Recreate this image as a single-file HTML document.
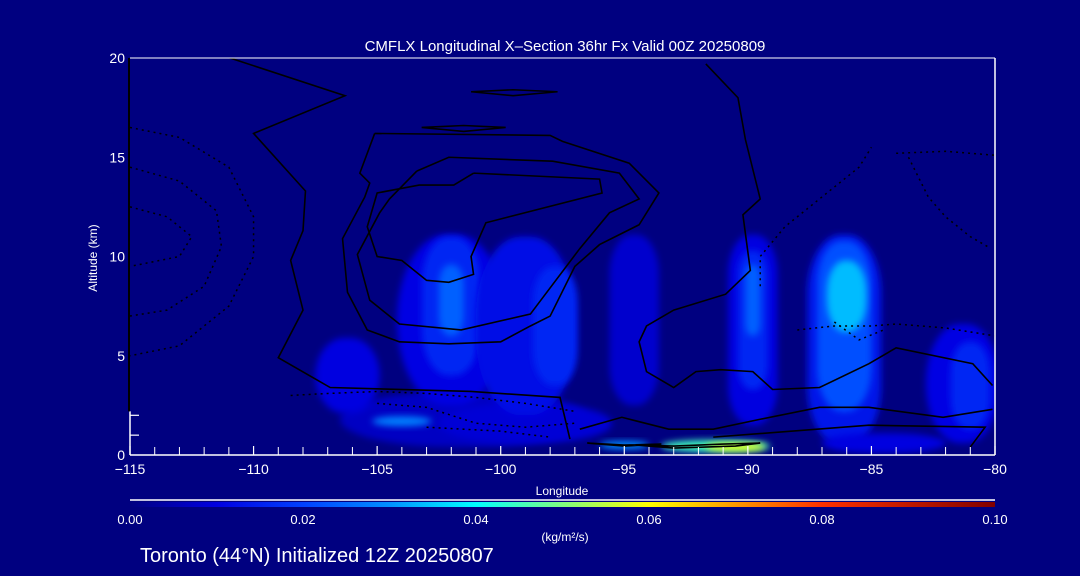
<!DOCTYPE html>
<html><head><meta charset="utf-8"><style>
html,body{margin:0;padding:0;background:#000080;width:1080px;height:576px;overflow:hidden}
svg{display:block;font-family:"Liberation Sans",sans-serif}
</style></head><body>
<svg id="chart" width="1080" height="576">
<defs>
<filter id="blur" x="-50%" y="-50%" width="200%" height="200%"><feGaussianBlur stdDeviation="3.5"/></filter>
<clipPath id="plotclip"><rect x="130" y="58" width="865" height="397"/></clipPath>
<linearGradient id="cbar" x1="0" x2="1" y1="0" y2="0">
<stop offset="0" stop-color="#000080"/><stop offset="0.1" stop-color="#0000e0"/>
<stop offset="0.2" stop-color="#0040ff"/><stop offset="0.3" stop-color="#0090ff"/>
<stop offset="0.4" stop-color="#00ffff"/><stop offset="0.5" stop-color="#80ff80"/>
<stop offset="0.6" stop-color="#ffff00"/><stop offset="0.8" stop-color="#ff3000"/>
<stop offset="1" stop-color="#800000"/></linearGradient>
</defs>
<rect x="0" y="0" width="1080" height="576" fill="#000080"/>
<g id="fills" clip-path="url(#plotclip)"></g>
<g id="contours" clip-path="url(#plotclip)"></g>
<g id="axes"></g>
<text x="565" y="51" fill="#fff" font-size="15" text-anchor="middle">CMFLX Longitudinal X–Section 36hr  Fx Valid 00Z 20250809</text>
<text x="97" y="258" fill="#fff" font-size="12" text-anchor="middle" transform="rotate(-90 97 258)">Altitude (km)</text>
<text x="562" y="495" fill="#fff" font-size="12" text-anchor="middle">Longitude</text>
<line x1="130" y1="500" x2="995" y2="500" stroke="#fff" stroke-width="1.5"/>
<rect x="130" y="502" width="865" height="5" fill="url(#cbar)"/>
<g id="cbticks"></g>
<text x="565" y="541" fill="#fff" font-size="12" text-anchor="middle">(kg/m²/s)</text>
<text x="140" y="562" fill="#fff" font-size="20">Toronto (44°N) Initialized 12Z 20250807</text>
</svg>
<script>
const xTicks=[-115,-110,-105,-100,-95,-90,-85,-80];
const yTicks=[0,5,10,15,20];
const cbLabels=["0.00","0.02","0.04","0.06","0.08","0.10"];
const cbValues=[0,0.02,0.04,0.06,0.08,0.10];
const blobLon=[-101.5,-99,-102,-102,-102,-99,-97.8,-106.2,-94.6,-89.8,-89.8,-89.8,-86.1,-86.1,-86,-81.3,-81,-104,-91.3,-90.5,-95,-84.5];
const blobAlt=[1.8,1.6,6.8,7.5,7.8,6.5,6.5,4.0,6.8,6.3,6.8,7.8,5.8,6.5,8.0,3.6,3.5,1.7,0.45,0.4,0.5,0.6];
const blobHalfW=[5.0,3.5,2.2,1.2,0.5,2.0,0.9,1.3,1.0,1.0,0.6,0.3,1.5,1.1,0.8,1.5,0.8,1.2,2.2,1.2,1.0,2.5];
const blobHalfH=[1.4,1.0,4.3,3.5,1.8,4.5,3.0,1.9,4.3,4.8,3.5,1.8,5.3,4.3,1.8,3.0,2.2,0.25,0.3,0.2,0.2,0.5];
const blobVal=[0.007,0.009,0.011,0.016,0.024,0.012,0.016,0.01,0.008,0.01,0.016,0.024,0.013,0.022,0.034,0.011,0.016,0.028,0.045,0.058,0.03,0.01];
const solidLon=[
[-111.2,-106.3,-110.0,-107.9,-108.0,-108.5,-108.0,-109.0,-106.9,-101.2,-97.6,-97.2],
[-105.1,-98.0,-97.5,-94.8,-93.6,-94.4,-96.0,-97.0,-98.0,-98.8,-100.0,-102.1,-104.1,-105.4,-106.2,-106.4,-105.5,-105.3,-105.7,-105.1],
[-103.4,-102.1,-97.9,-95.2,-94.4,-95.6,-96.8,-98.8,-101.6,-104.1,-105.3,-105.8,-104.9,-104.5,-103.4],
[-101.1,-96.0,-95.9,-100.6,-101.2,-101.1,-102.1,-103.0,-104.0,-105.0,-105.4,-105.0,-103.3,-101.9,-101.1],
[-96.8,-95.1,-93.2,-91.4,-89.5,-87.1,-85.1,-82.1,-80.1],
[-80.1,-80.9,-84.0,-85.1,-87.1,-89.0,-89.8,-91.1,-92.1,-93.0,-94.1,-94.4,-94.1,-93.0,-90.9,-89.9,-90.2,-89.5,-90.1,-90.4,-91.7],
[-91.4,-85.1,-80.4,-81.0],
[-94.5,-93,-91,-89.5,-90.5,-93,-94.5],
[-96.5,-95,-93.5,-95,-96.5],
[-101.2,-99.5,-97.7,-99.5,-101.2],
[-103.2,-101.5,-99.8,-101.5,-103.2]];
const solidAlt=[
[20.1,18.1,16.2,13.3,11.3,9.8,7.3,4.9,3.4,3.2,2.9,0.8],
[16.2,16.1,15.8,14.7,13.2,11.6,10.6,9.5,7.0,6.5,5.7,5.6,5.7,6.3,8.2,10.9,13.0,13.7,14.2,16.2],
[14.3,15.0,14.8,14.2,12.9,12.2,10.4,7.1,6.3,6.6,7.8,10.1,12.2,12.9,14.3],
[14.2,13.9,13.2,11.7,10.0,9.1,8.7,8.8,9.8,10.0,11.5,13.2,13.6,13.6,14.2],
[1.3,1.9,1.3,1.3,1.8,2.4,2.4,1.9,2.3],
[3.5,4.6,5.4,4.6,3.4,3.3,4.2,4.3,4.2,3.4,4.2,5.7,6.5,7.3,8.1,9.3,12.1,12.9,15.9,18.0,19.7],
[0.9,1.5,1.4,0.4],
[0.5,0.45,0.55,0.6,0.45,0.35,0.5],
[0.6,0.5,0.55,0.45,0.6],
[18.3,18.4,18.3,18.1,18.3],
[16.5,16.6,16.5,16.3,16.5]];
const dotLon=[
[-115,-113,-111,-110,-110,-111,-113,-115],
[-115,-113,-111.5,-111.3,-112,-113.5,-115],
[-115,-113.5,-112.5,-113,-115],
[-108.5,-107,-105,-103,-101,-99,-97],
[-105,-103,-101,-99,-97],
[-103,-100,-98],
[-89.5,-89.5,-88.5,-87.5,-86.5,-85.5,-85],
[-88,-86.5,-85,-84,-82,-80],
[-86.5,-85.5,-84.5],
[-83.5,-82.7,-82,-81,-80.3],
[-84,-82,-80]];
const dotAlt=[
[16.5,16,14.5,12,10,7.5,5.5,5],
[14.5,13.8,12.3,10.5,8.5,7.3,7],
[12.5,12,11,10,9.5],
[3,3.1,3.2,3.1,2.9,2.6,2.2],
[2.6,2.4,1.6,1.4,1.6],
[1.4,1.2,0.9],
[8.5,10,11.5,12.5,13.5,14.5,15.5],
[6.3,6.5,6.5,6.6,6.4,6],
[6.7,5.8,6.3],
[15,13,12,11,10.5],
[15.2,15.3,15.1]];

const X0=130,X1=995,Y0=455,Y1=58;
const px=l=>X0+(l+115)/35*(X1-X0);
const py=a=>Y0-a/20*(Y0-Y1);
const stops=[[0,[0,0,128]],[0.01,[0,0,224]],[0.02,[0,64,255]],[0.03,[0,144,255]],[0.04,[0,255,255]],[0.05,[128,255,128]],[0.06,[255,255,0]],[0.08,[255,48,0]],[0.1,[128,0,0]]];
function cmap(v){for(let i=1;i<stops.length;i++){if(v<=stops[i][0]){const a=stops[i-1],b=stops[i],t=(v-a[0])/(b[0]-a[0]);return 'rgb('+a[1].map((c,k)=>Math.round(c+(b[1][k]-c)*t)).join(',')+')';}}return 'rgb(128,0,0)';}
const NS='http://www.w3.org/2000/svg';
function mk(tag,attrs,parent){const e=document.createElementNS(NS,tag);for(const k in attrs)e.setAttribute(k,attrs[k]);parent.appendChild(e);return e;}
const fills=document.getElementById('fills');
blobLon.forEach((l,i)=>{
 const w=px(l+blobHalfW[i])-px(l), h=py(0)-py(blobHalfH[i]);
 const e=mk('rect',{x:px(l)-w,y:py(blobAlt[i])-h,width:2*w,height:2*h,rx:w*0.9,ry:Math.min(h,w*1.6),fill:cmap(blobVal[i]),filter:'url(#blur)'},fills);
 
 
});
const cont=document.getElementById('contours');
solidLon.forEach((ls,i)=>{
 const e=mk('polyline',{points:ls.map((l,j)=>px(l)+','+py(solidAlt[i][j])).join(' '),fill:'none',stroke:'#000','stroke-width':1.6},cont);
 
 
});
dotLon.forEach((ls,i)=>{
 const e=mk('polyline',{points:ls.map((l,j)=>px(l)+','+py(dotAlt[i][j])).join(' '),fill:'none',stroke:'#000','stroke-width':1.5,'stroke-dasharray':'2 4'},cont);
 
 
});
const ax=document.getElementById('axes');
mk('line',{x1:X0,y1:Y0,x2:X1,y2:Y0,stroke:'#fff','stroke-width':1.5},ax);
mk('line',{x1:X1,y1:Y0,x2:X1,y2:Y1,stroke:'#fff','stroke-width':1.5},ax);
mk('line',{x1:X0,y1:Y1,x2:X1,y2:Y1,stroke:'#fff','stroke-width':1},ax);
mk('line',{x1:X0,y1:Y0,x2:X0,y2:py(2.2),stroke:'#fff','stroke-width':1.5},ax);
mk('line',{x1:X0-1,y1:py(2.2),x2:X0-1,y2:Y1,stroke:'#000','stroke-width':2},ax);
[1,2].forEach(a=>mk('line',{x1:X0,y1:py(a),x2:X0+9,y2:py(a),stroke:'#fff','stroke-width':1.2},ax));
for(let l=-114;l<-80;l++){if(l%5!==0)mk('line',{x1:px(l),y1:Y0,x2:px(l),y2:Y0-8,stroke:'#fff','stroke-width':1},ax);}
xTicks.forEach(l=>{
 mk('line',{x1:px(l),y1:Y0,x2:px(l),y2:Y0-9,stroke:'#fff','stroke-width':1.2},ax);
 const t=mk('text',{x:px(l),y:Y0+19,fill:'#fff','font-size':14,'text-anchor':'middle'},ax);
 t.textContent=(l<0?'−':'')+Math.abs(l);
 
 
});
yTicks.forEach(a=>{
 const t=mk('text',{x:X0-5,y:py(a)+5,fill:'#fff','font-size':14,'text-anchor':'end'},ax);
 t.textContent=a;
 
 
});
const cb=document.getElementById('cbticks');
cbValues.forEach((v,i)=>{
 const t=mk('text',{x:X0+v/0.1*(X1-X0),y:524,fill:'#fff','font-size':13,'text-anchor':'middle'},cb);
 t.textContent=cbLabels[i];
 
 
});
</script>
</body></html>
